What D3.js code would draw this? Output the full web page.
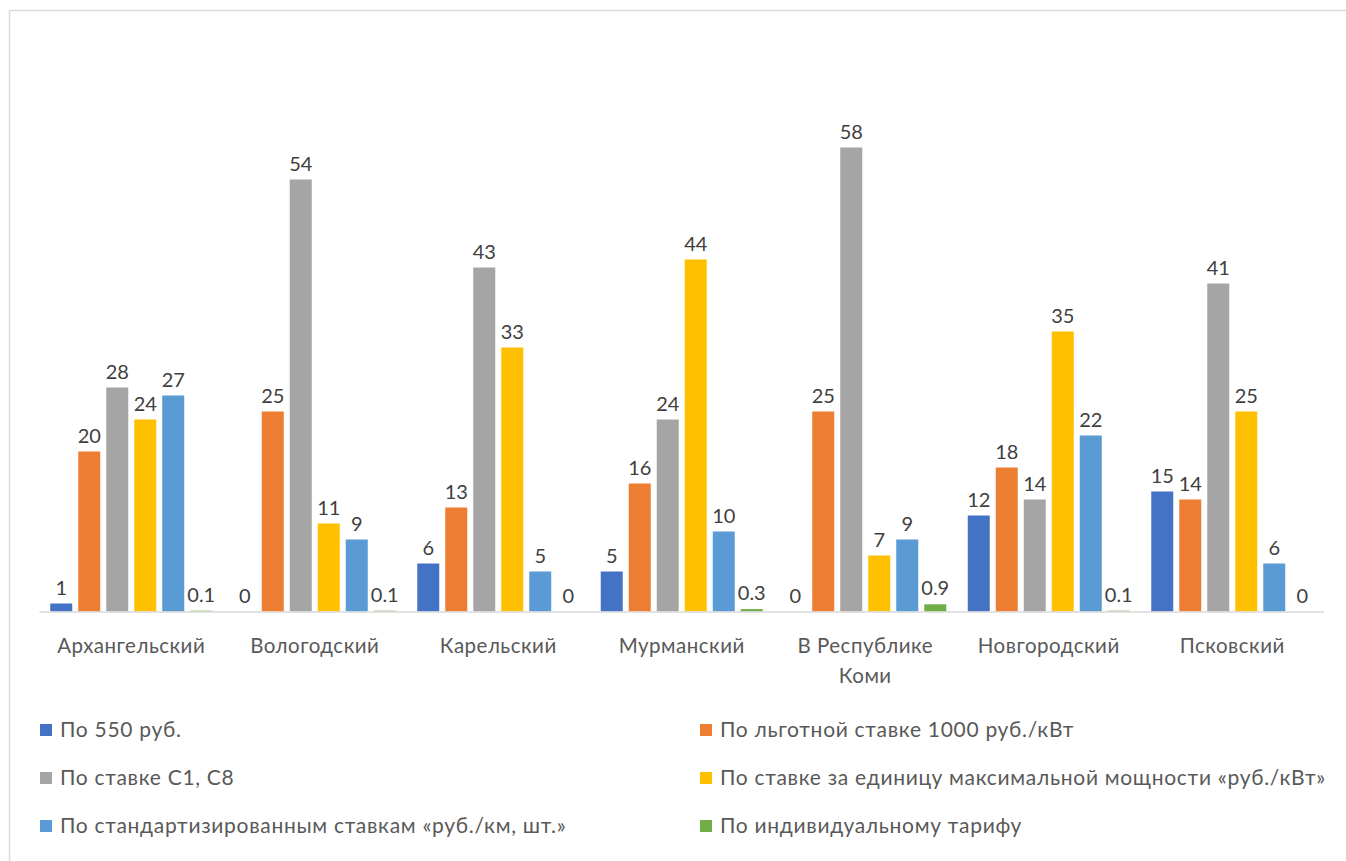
<!DOCTYPE html>
<head>
  <meta charset="utf-8">
  <style>
    body { margin: 0; background: #fff; }
    svg text { font-family: Lato, 'Open Sans', sans-serif; }
  </style>
</head>
<body>
  <script src="https://cdn.jsdelivr.net/npm/d3@7"></script>
  <script>
    // regions (categories)
    const regions = ["Архангельский", "Вологодский", "Карельский", "Мурманский", "В Республике Коми", "Новгородский", "Псковский"];
    // series names, in legend order
    const seriesNames = [
      "По 550 руб.",
      "По льготной ставке 1000 руб./кВт",
      "По ставке С1, С8",
      "По ставке за единицу максимальной мощности «руб./кВт»",
      "По стандартизированным ставкам «руб./км, шт.»",
      "По индивидуальному тарифу"
    ];
    const seriesColors = ["#4472c4", "#ed7d31", "#a5a5a5", "#ffc000", "#5b9bd5", "#70ad47"];
    // values per series, one per region
    const s550 = [1, 0, 6, 5, 0, 12, 15];
    const sLgot = [20, 25, 13, 16, 25, 18, 14];
    const sC1C8 = [28, 54, 43, 24, 58, 14, 41];
    const sMaxPower = [24, 11, 33, 44, 7, 35, 25];
    const sStandard = [27, 9, 5, 10, 9, 22, 6];
    const sIndividual = [0.1, 0.1, 0, 0.3, 0.9, 0.1, 0];
    const seriesValues = [s550, sLgot, sC1C8, sMaxPower, sStandard, sIndividual];

    const width = 1346, height = 861;
    const plot = {left: 39.5, right: 1324, top: 51.5, bottom: 611.5};

    const svg = d3.select("body").append("svg")
      .attr("width", width)
      .attr("height", height);

    // chart frame (only top/left edges fall inside the picture)
    svg.append("rect")
      .attr("x", 9.5).attr("y", 10.5)
      .attr("width", 1400).attr("height", 900)
      .attr("fill", "#fff")
      .attr("stroke", "#d9d9d9")
      .attr("stroke-width", 1.5);

    const x0 = d3.scaleBand().domain(regions).range([plot.left, plot.right]).padding(0);
    const gpad = (x0.bandwidth() - 162) / 2;
    const x1 = d3.scaleBand().domain(d3.range(seriesNames.length))
      .range([gpad, x0.bandwidth() - gpad])
      .paddingInner(6 / 28).paddingOuter(0);
    const y = d3.scaleLinear().domain([0, 70]).range([plot.bottom, plot.top]);

    const groups = svg.append("g").selectAll("g")
      .data(regions).enter().append("g")
      .attr("transform", d => "translate(" + x0(d) + ",0)");

    groups.each(function(region, ri) {
      const g = d3.select(this);
      const vals = seriesValues.map((s, si) => ({si: si, v: s[ri]}));
      g.selectAll("rect").data(vals).enter().append("rect")
        .attr("x", d => x1(d.si))
        .attr("y", d => y(d.v))
        .attr("width", x1.bandwidth())
        .attr("height", d => y(0) - y(d.v))
        .attr("fill", d => seriesColors[d.si]);
      g.selectAll("text.lbl").data(vals).enter().append("text")
        .attr("class", "lbl")
        .attr("x", d => x1(d.si) + x1.bandwidth() / 2)
        .attr("y", d => y(d.v) - 9)
        .attr("text-anchor", "middle")
        .attr("font-size", "20px")
        .attr("fill", "#404040")
        .text(d => d.v);
    });

    // x axis line
    svg.append("line")
      .attr("x1", plot.left).attr("x2", plot.right)
      .attr("y1", plot.bottom + 0.5).attr("y2", plot.bottom + 0.5)
      .attr("stroke", "#d9d9d9").attr("stroke-width", 1.5);

    // category labels, wrapped like the original
    const catLines = {"В Республике Коми": ["В Республике", "Коми"]};
    svg.append("g").selectAll("text")
      .data(regions).enter().append("text")
      .attr("x", d => x0(d) + x0.bandwidth() / 2)
      .attr("y", 653)
      .attr("text-anchor", "middle")
      .attr("font-size", "20.5px")
      .attr("letter-spacing", "0.5px")
      .attr("fill", "#595959")
      .each(function(d) {
        const lines = catLines[d] || [d];
        d3.select(this).selectAll("tspan").data(lines).enter().append("tspan")
          .attr("x", x0(d) + x0.bandwidth() / 2)
          .attr("dy", (l, i) => i === 0 ? 0 : 30)
          .text(l => l);
      });

    // legend, two columns
    const legendCols = [40, 700];
    const legendRows = [730, 778, 826];
    const legend = svg.append("g").selectAll("g")
      .data(seriesNames).enter().append("g")
      .attr("transform", (d, i) => "translate(" + legendCols[i % 2] + "," + legendRows[Math.floor(i / 2)] + ")");
    legend.append("rect")
      .attr("x", 0).attr("y", -6)
      .attr("width", 12).attr("height", 12)
      .attr("fill", (d, i) => seriesColors[i]);
    legend.append("text")
      .attr("x", 20).attr("y", 0)
      .attr("dy", "0.35em")
      .attr("font-size", "21px")
      .attr("letter-spacing", "0.7px")
      .attr("fill", "#595959")
      .text(d => d);
  </script>
</body>
